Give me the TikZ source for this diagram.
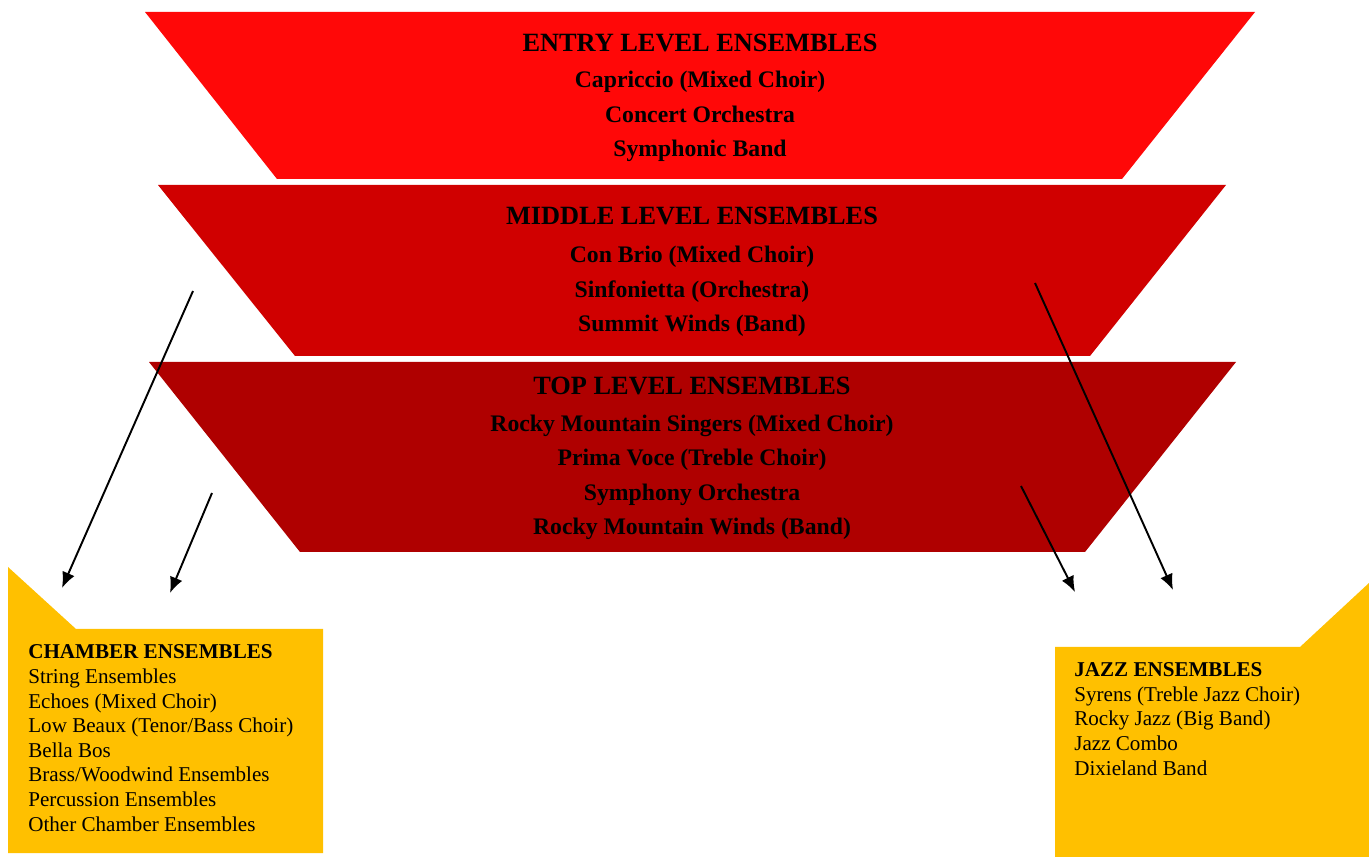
\documentclass[tikz,border=0pt]{standalone}
\usepackage{fontspec}
\setmainfont{Liberation Serif}
\usepackage{tikz}
\usetikzlibrary{shapes,arrows.meta,positioning,calc}
\definecolor{entryred}{RGB}{255,8,8}
\definecolor{middlered}{RGB}{208,0,0}
\definecolor{topred}{RGB}{175,0,0}
\definecolor{groupyellow}{RGB}{255,192,0}
\tikzset{
levelbox/.style = {align=center, inner sep=0pt, anchor=base, font=\fontsize{13.5}{19.7}\selectfont\bfseries},
groupbox/.style = {align=left, inner sep=0pt, anchor=base west, font=\fontsize{12}{14}\selectfont},
link/.style = {->, line width=1.1pt},
}
\newcommand{\levelhead}[1]{{\fontsize{15}{19.7}\selectfont #1}}

\begin{document}
\begin{tikzpicture}[x=0.02cm, y=-0.02cm, >={Latex[length=9pt,width=7.5pt]}]
  \useasboundingbox (0,0) rectangle (1369,857);
  % the three levels
  \fill[entryred] (145,12) -- (1255,12) -- (1122,179) -- (277,179) -- cycle;
  \fill[middlered] (158,185) -- (1226,185) -- (1090,356) -- (295,356) -- cycle;
  \fill[topred] (149,362) -- (1236,362) -- (1085,552) -- (300,552) -- cycle;
  % base anchor sits on the last line
  \node [levelbox] (entry) at (700,157) {\levelhead{ENTRY LEVEL ENSEMBLES}\\[1pt]
    Capriccio (Mixed Choir)\\ Concert Orchestra\\ Symphonic Band};
  \node [levelbox] (middle) at (692,332) {\levelhead{MIDDLE LEVEL ENSEMBLES}\\[2pt]
    Con Brio (Mixed Choir)\\ Sinfonietta (Orchestra)\\ Summit Winds (Band)};
  \node [levelbox] (toplevel) at (692,535) {\levelhead{TOP LEVEL ENSEMBLES}\\[1pt]
    Rocky Mountain Singers (Mixed Choir)\\ Prima Voce (Treble Choir)\\
    Symphony Orchestra\\ Rocky Mountain Winds (Band)};
  % side groups
  \fill[groupyellow] (8,567) -- (76,629) -- (323,629) -- (323,853) -- (8,853) -- cycle;
  \fill[groupyellow] (1055,647) -- (1300,647) -- (1369,583) -- (1369,857) -- (1055,857) -- cycle;
  \node [groupbox] (chamber) at (28,831) {\textbf{CHAMBER ENSEMBLES}\\ String Ensembles\\
    Echoes (Mixed Choir)\\ Low Beaux (Tenor/Bass Choir)\\ Bella Bos\\
    Brass/Woodwind Ensembles\\ Percussion Ensembles\\ Other Chamber Ensembles};
  \node [groupbox] (jazz) at (1074,775) {\textbf{JAZZ ENSEMBLES}\\ Syrens (Treble Jazz Choir)\\
    Rocky Jazz (Big Band)\\ Jazz Combo\\ Dixieland Band};
  % arrows
  \coordinate (chamberfrommid) at (193,291);
  \coordinate (chamberto1) at (62,588);
  \coordinate (chamberfromtop) at (212,493);
  \coordinate (chamberto2) at (170,593);
  \coordinate (jazzfromtop) at (1021,486);
  \coordinate (jazzto1) at (1075,592);
  \coordinate (jazzfrommid) at (1035,283);
  \coordinate (jazzto2) at (1173,590);
  \draw [link] (chamberfrommid) -- (chamberto1);
  \draw [link] (chamberfromtop) -- (chamberto2);
  \draw [link] (jazzfromtop) -- (jazzto1);
  \draw [link] (jazzfrommid) -- (jazzto2);
\end{tikzpicture}
\end{document}
